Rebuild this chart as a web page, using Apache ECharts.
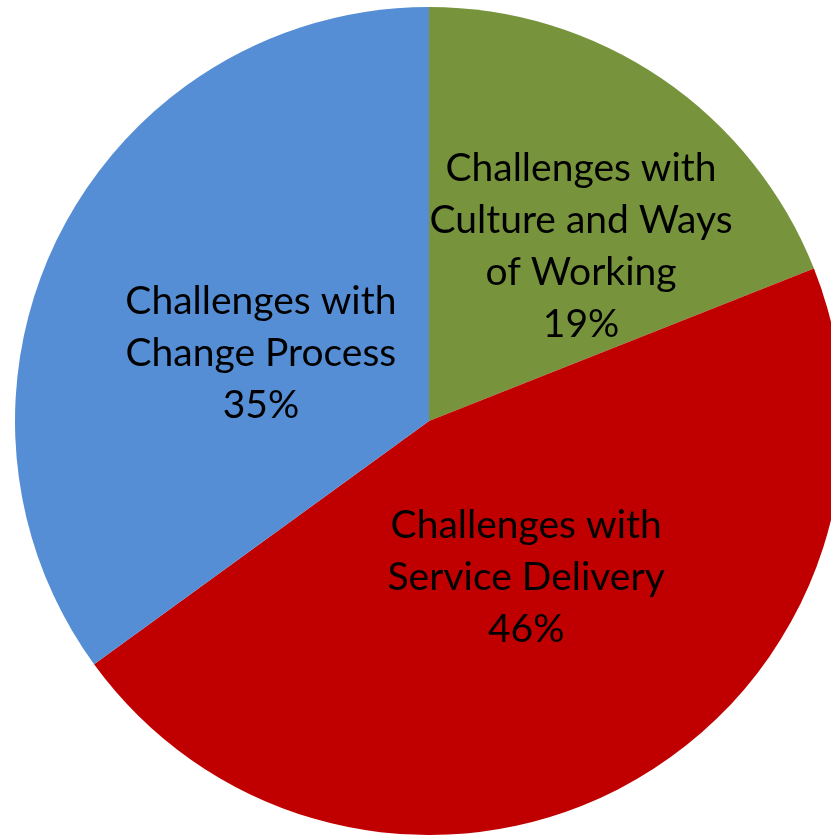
<!DOCTYPE html>
<html>
<head>
<meta charset="utf-8">
<style>
  html, body { margin: 0; padding: 0; background: #fff; }
  #main { width: 831px; height: 835px; }
</style>
<script src="https://cdn.jsdelivr.net/npm/echarts@6/dist/echarts.min.js"></script>
</head>
<body>
<div id="main"></div>
<script>
// slice names (line breaks as shown in the chart), shares in percent, colours
const names = [
  "Challenges with\nCulture and Ways\nof Working",
  "Challenges with\nService Delivery",
  "Challenges with\nChange Process"
];
const shares = [19, 46, 35];
const colors = ["#77933C", "#C00000", "#558ED5"];
const labelOffsets = [[34, -1], [-4, -28], [19, 28]];

var myChart = echarts.init(document.getElementById("main"));

myChart.setOption({
  animation: false,
  series: [
    {
      type: "pie",
      center: [429, 421],
      radius: [0, 414],
      startAngle: 90,
      clockwise: true,
      avoidLabelOverlap: false,
      label: {
        show: true,
        position: "inside",
        color: "#000",
        fontFamily: "Lato",
        fontSize: 39,
        lineHeight: 52,
        align: "center",
        formatter: "{b}\n{c}%"
      },
      labelLine: { show: false },
      emphasis: { disabled: true },
      data: names.map((n, i) => ({
        name: n,
        value: shares[i],
        itemStyle: { color: colors[i], borderWidth: 0 },
        label: { offset: labelOffsets[i] }
      }))
    }
  ]
});
</script>
</body>
</html>
